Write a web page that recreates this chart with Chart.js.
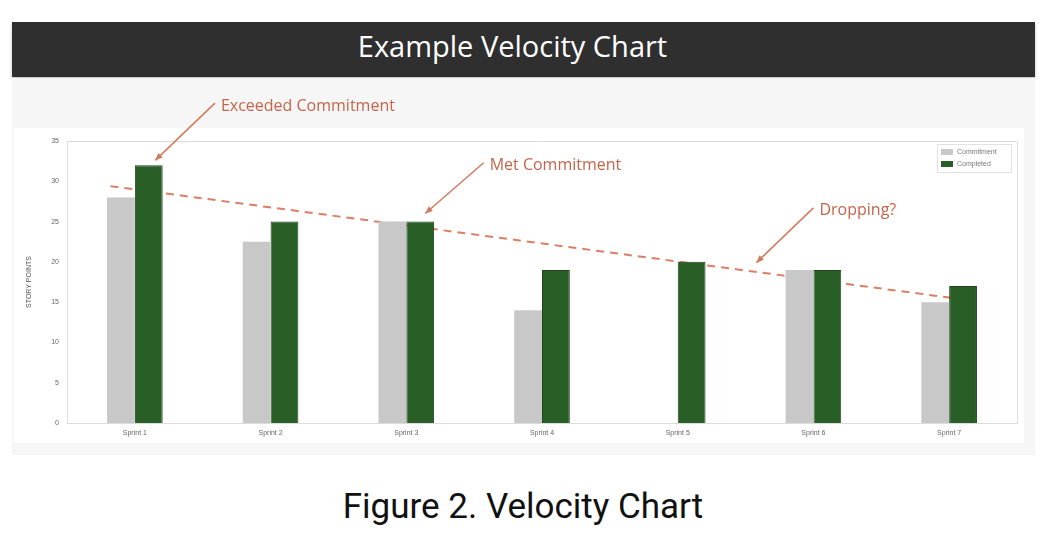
<!DOCTYPE html>
<html>
<head>
<meta charset="utf-8">
<script src="https://cdn.jsdelivr.net/npm/chart.js@4"></script>
<style>
  body { margin: 0; background: #fff; }
  #page { position: relative; width: 1052px; height: 556px; overflow: hidden; }
  #header { position: absolute; left: 12px; top: 22px; width: 1023px; height: 55px; background: #2f2f2f;
    box-shadow: 0 2px 3px rgba(0,0,0,0.25);
    color: #fff; font: 29px "Open Sans", sans-serif; text-align: center; line-height: 48px; padding-right: 22px; box-sizing: border-box; }
  #panel { position: absolute; left: 12px; top: 78px; width: 1023px; height: 377px; background: #f6f6f6; }
  #box { position: absolute; left: 2px; top: 50px; width: 1010px; height: 315px; background: #fff; }
  #chart { position: absolute; left: 0; top: 0; }
  #caption { position: absolute; left: 0; top: 486px; width: 1046px; text-align: center;
    font: 35px Roboto, sans-serif; color: #111; }
</style>
</head>
<body>
<div id="page">
  <div id="header">Example Velocity Chart</div>
  <div id="panel">
    <div id="box"></div>
    <canvas id="chart" width="1023" height="377"></canvas>
  </div>
  <div id="caption">Figure 2. Velocity Chart</div>
</div>
<script>
var sprints = ['Sprint 1', 'Sprint 2', 'Sprint 3', 'Sprint 4', 'Sprint 5', 'Sprint 6', 'Sprint 7'];
var commitment = [28, 22.5, 25, 14, null, 19, 15];
var completed = [32, 25, 25, 19, 20, 19, 17];
// trend line ends, x in sprint index units (0 = Sprint 1)
var trendX = [-0.18, 6.12];
var trendY = [29.4, 15.3];
var yTicks = [0, 5, 10, 15, 20, 25, 30, 35];

// callouts: arrow tip and tail in data units (sprint index, story points)
var callouts = [
  { text: 'Exceeded Commitment', tip: [0.15, 32.6], tail: [0.59, 39.7] },
  { text: 'Met Commitment', tip: [2.14, 26.0], tail: [2.57, 32.3] },
  { text: 'Dropping?', tip: [4.58, 19.9], tail: [5.0, 26.7] }
];

var grayColor = '#c8c8c8';
var greenColor = '#2a5e27';
var noteColor = '#c5654a';

var trendData = trendX.map(function(x, i) { return { x: x, y: trendY[i] }; });

var extras = {
  id: 'extras',
  afterDraw: function(chart) {
    var ctx = chart.ctx;
    var a = chart.chartArea;
    var xs = chart.scales.x, ys = chart.scales.y;
    ctx.save();
    // frame on top and right
    ctx.strokeStyle = '#dcdcdc';
    ctx.lineWidth = 1;
    ctx.beginPath();
    ctx.moveTo(a.left, a.top + 0.5);
    ctx.lineTo(a.right + 0.5, a.top + 0.5);
    ctx.lineTo(a.right + 0.5, a.bottom);
    ctx.stroke();

    // legend box inside plot, top right
    var lx = a.right - 80, ly = a.top + 3;
    ctx.fillStyle = '#fff';
    ctx.strokeStyle = '#e2e2e2';
    ctx.fillRect(lx, ly, 74, 28);
    ctx.strokeRect(lx + 0.5, ly + 0.5, 74, 28);
    ctx.font = '7px "Liberation Sans", sans-serif';
    ctx.textBaseline = 'middle';
    chart.data.datasets.slice(0, 2).forEach(function(ds, i) {
      var yy = ly + 8 + i * 12;
      ctx.fillStyle = ds.backgroundColor;
      ctx.fillRect(lx + 4, yy - 3, 12, 6);
      ctx.fillStyle = '#777';
      ctx.fillText(ds.label, lx + 20, yy);
    });

    // callouts
    callouts.forEach(function(c) {
      var x1 = xs.getPixelForValue(c.tail[0]), y1 = ys.getPixelForValue(c.tail[1]);
      var x2 = xs.getPixelForValue(c.tip[0]), y2 = ys.getPixelForValue(c.tip[1]);
      ctx.strokeStyle = '#cf7a5c';
      ctx.fillStyle = '#cf7a5c';
      ctx.lineWidth = 1.5;
      ctx.beginPath();
      ctx.moveTo(x1, y1);
      ctx.lineTo(x2, y2);
      ctx.stroke();
      var ang = Math.atan2(y2 - y1, x2 - x1);
      ctx.beginPath();
      ctx.moveTo(x2, y2);
      ctx.lineTo(x2 - 8 * Math.cos(ang - 0.4), y2 - 8 * Math.sin(ang - 0.4));
      ctx.lineTo(x2 - 8 * Math.cos(ang + 0.4), y2 - 8 * Math.sin(ang + 0.4));
      ctx.closePath();
      ctx.fill();
      ctx.fillStyle = noteColor;
      ctx.font = '16px "Open Sans", sans-serif';
      ctx.textBaseline = 'middle';
      ctx.textAlign = 'left';
      ctx.fillText(c.text, x1 + 6, y1 + 3);
    });
    ctx.restore();
  }
};

new Chart(document.getElementById('chart'), {
  type: 'bar',
  data: {
    labels: sprints,
    datasets: [
      {
        label: 'Commitment',
        data: commitment,
        backgroundColor: grayColor,
        borderWidth: 0,
        barPercentage: 1.0,
        categoryPercentage: 0.41
      },
      {
        label: 'Completed',
        data: completed,
        backgroundColor: greenColor,
        borderColor: '#1e461c',
        borderWidth: 1,
        barPercentage: 1.0,
        categoryPercentage: 0.41
      },
      {
        type: 'line',
        label: 'Trend',
        data: trendData,
        parsing: false,
        borderColor: 'rgba(212, 104, 72, 0.85)',
        borderWidth: 2,
        borderDash: [8, 6],
        pointRadius: 0,
        fill: false
      }
    ]
  },
  options: {
    responsive: false,
    animation: false,
    layout: { padding: { left: 9, right: 18, top: 63, bottom: 10 } },
    plugins: {
      legend: { display: false },
      tooltip: { enabled: false }
    },
    scales: {
      x: {
        grid: { display: false, drawTicks: false },
        border: { color: '#dcdcdc' },
        ticks: { color: '#666', font: { size: 7 }, padding: 6 },
        afterFit: function(s) { s.height = 22; }
      },
      y: {
        min: 0,
        max: 35,
        afterBuildTicks: function(s) { s.ticks = yTicks.map(function(v) { return { value: v }; }); },
        grid: { display: false, drawTicks: false },
        border: { color: '#dcdcdc' },
        ticks: { color: '#666', font: { size: 7 }, padding: 8 },
        title: { display: true, text: 'STORY POINTS', color: '#555', font: { size: 7 } },
        afterFit: function(s) { s.width = 46; }
      }
    }
  },
  plugins: [extras]
});
</script>
</body>
</html>
